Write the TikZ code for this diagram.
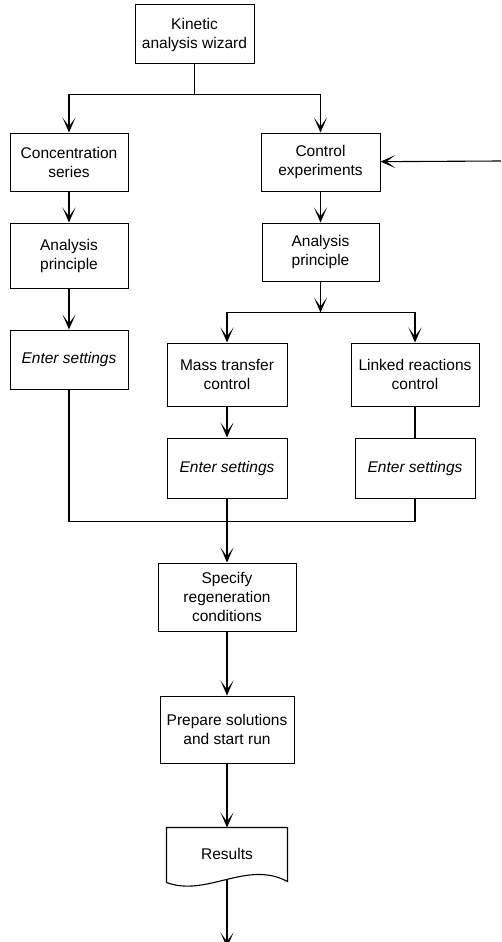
\documentclass[tikz,border=0pt]{standalone}
\usepackage{fontspec}
\setmainfont{Liberation Sans}
\usetikzlibrary{arrows.meta, positioning}

\begin{document}
\begin{tikzpicture}[
  x=1pt, y=1pt,
  box/.style={rectangle, draw, line width=1pt, align=center, inner sep=2pt,
              font=\fontsize{15.5}{19}\selectfont, minimum width=118pt, minimum height=58pt},
  arr/.style={-{Stealth[length=15pt, width=13pt, inset=9pt]}, line width=1.1pt},
  link/.style={line width=1.1pt}
]
\useasboundingbox (0,0) rectangle (501,-942);
\node[box, minimum width=119pt, minimum height=59pt] (wizard) at (194.5,-34.5)
  {Kinetic\\analysis wizard};
\node[box, below=68pt of wizard, xshift=-125.5pt] (conc) {Concentration\\series};
\node[box, minimum width=119pt, right=132pt of conc] (ctrl) {Control\\experiments};
\node[box, minimum height=65pt, below=31pt of conc] (princ1) {Analysis\\principle};
\node[box, minimum width=117pt, below=31pt of ctrl] (princ2) {Analysis\\principle};
\node[box, minimum height=59pt, below=41pt of princ1] (enter1) {\itshape Enter settings};
\node[box, minimum width=120pt, minimum height=63pt, below=61pt of princ2, xshift=-93.5pt] (mass)
  {Mass transfer\\control};
\node[box, minimum width=128pt, minimum height=63pt, right=63pt of mass] (linked)
  {Linked reactions\\control};
\node[box, minimum width=120pt, minimum height=60pt, below=31pt of mass] (enter2) {\itshape Enter settings};
\node[box, minimum width=120pt, minimum height=60pt, below=31pt of linked] (enter3) {\itshape Enter settings};
\node[box, minimum width=138pt, minimum height=68pt, below=64pt of enter2] (regen)
  {Specify\\regeneration\\conditions};
\node[box, minimum width=134pt, minimum height=67pt, below=64pt of regen] (prep)
  {Prepare solutions\\and start run};
\node[box, draw=none, minimum width=120pt, minimum height=51pt, below=64pt of prep] (results) {Results};
% document shape of the results box
\draw[link] ([yshift=-3pt]results.south west) -- (results.north west) -- (results.north east)
  -- ([yshift=-2pt]results.south east)
  .. controls ([xshift=20pt, yshift=20pt]results.south) and ([xshift=-20pt, yshift=-18pt]results.south)
  .. ([yshift=-3pt]results.south west);

\coordinate[below=30pt of wizard] (split);
\coordinate[below=31pt of princ2] (split2);
\coordinate[below=23pt of enter2] (merge);
\coordinate (feed) at (501,-161);
\coordinate[below=68pt of results] (out);

\draw[link] (wizard) -- (split);
\draw[arr] (split) -| (conc);
\draw[arr] (split) -| (ctrl);
\draw[arr] (feed) -- (ctrl);
\draw[arr] (conc) -- (princ1);
\draw[arr] (princ1) -- (enter1);
\draw[arr] (ctrl) -- (princ2);
\draw[arr] (princ2) -- (split2);
\draw[arr] (split2) -| (mass);
\draw[arr] (split2) -| (linked);
\draw[arr] (mass) -- (enter2);
\draw[link] (linked) -- (enter3);
\draw[link] (enter1.south) |- (merge) -| (enter3.south);
\draw[arr] (enter2) -- (regen);
\draw[arr] (regen) -- (prep);
\draw[arr] (prep) -- (results.north);
\draw[arr] (results.south) -- (out);
\end{tikzpicture}
\end{document}
